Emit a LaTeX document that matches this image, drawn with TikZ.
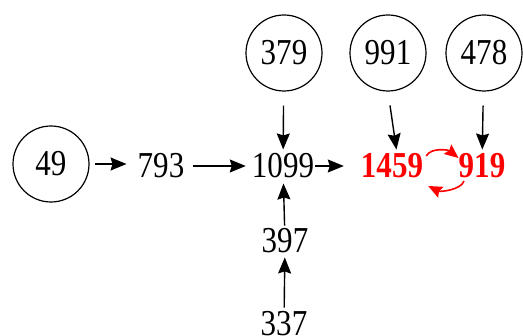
\documentclass[tikz,border=0pt]{standalone}
\usepackage{graphicx}
\usepackage{fontspec}
\setmainfont{Liberation Serif}
\usetikzlibrary{arrows.meta}
\newcommand{\nq}[1]{\scalebox{0.85}[1]{#1}}
\begin{document}
\begin{tikzpicture}[x=1pt,y=-1pt,
  num/.style={font=\fontsize{36.5}{36.5}\selectfont, inner sep=0pt},
  circ/.style={num, circle, draw, line width=1.2pt, minimum size=76pt},
  hot/.style={inner sep=0pt, text=red, font=\fontsize{36.5}{36.5}\selectfont\bfseries},
  arr/.style={-{Stealth[length=16pt,width=13pt,inset=2pt]}, line width=1.4pt},
  rarr/.style={-{Stealth[length=14pt,width=12pt,inset=2pt]}, line width=1.6pt, red}]
\useasboundingbox (0,0) rectangle (523,336);
\node[circ] (c49) at (51,164) {\nq{49}};
\node[num] (n793) at (161,166) {\nq{793}};
\node[num] (n1099) at (283,166) {\nq{1099}};
\node[hot] (n1459) at (392,166) {\nq{1459}};
\node[hot] (n919) at (482,166) {\nq{919}};
\node[circ] (c379) at (284,53) {\nq{379}};
\node[circ] (c991) at (388,53) {\nq{991}};
\node[circ] (c478) at (484,53) {\nq{478}};
\node[num] (n397) at (285,241) {\nq{397}};
\node[num] (n337) at (284,324) {\nq{337}};
\draw[arr, shorten <=5pt, shorten >=11pt] (c49.east) -- (c49.east -| n793.west);
\draw[arr, shorten <=9pt, shorten >=6pt] (n793) -- (n1099);
\draw[arr, shorten <=1pt, shorten >=17pt] (n1099) -- (n1459);
\draw[arr, shorten <=14pt, shorten >=4pt] (c379) -- (n1099);
\draw[arr, shorten <=14pt, shorten >=4pt] (c991.south) -- ([xshift=5pt]n1459.north);
\draw[arr, shorten <=14pt, shorten >=4pt] (c478) -- (n919);
\draw[arr, shorten <=3pt, shorten >=5pt] (n397) -- (n1099);
\draw[arr, shorten <=4pt, shorten >=4pt] (n337) -- (n397);
\draw[rarr] ([shift={(3,-10)}]n1459.east) .. controls +(5,-9) and +(-10,-8) .. ([shift={(0,-8)}]n919.west);
\draw[rarr] ([shift={(5.5,15)}]n919.west) .. controls +(-3,9) and +(12,6) .. ([shift={(5,20)}]n1459.east);
\end{tikzpicture}
\end{document}
